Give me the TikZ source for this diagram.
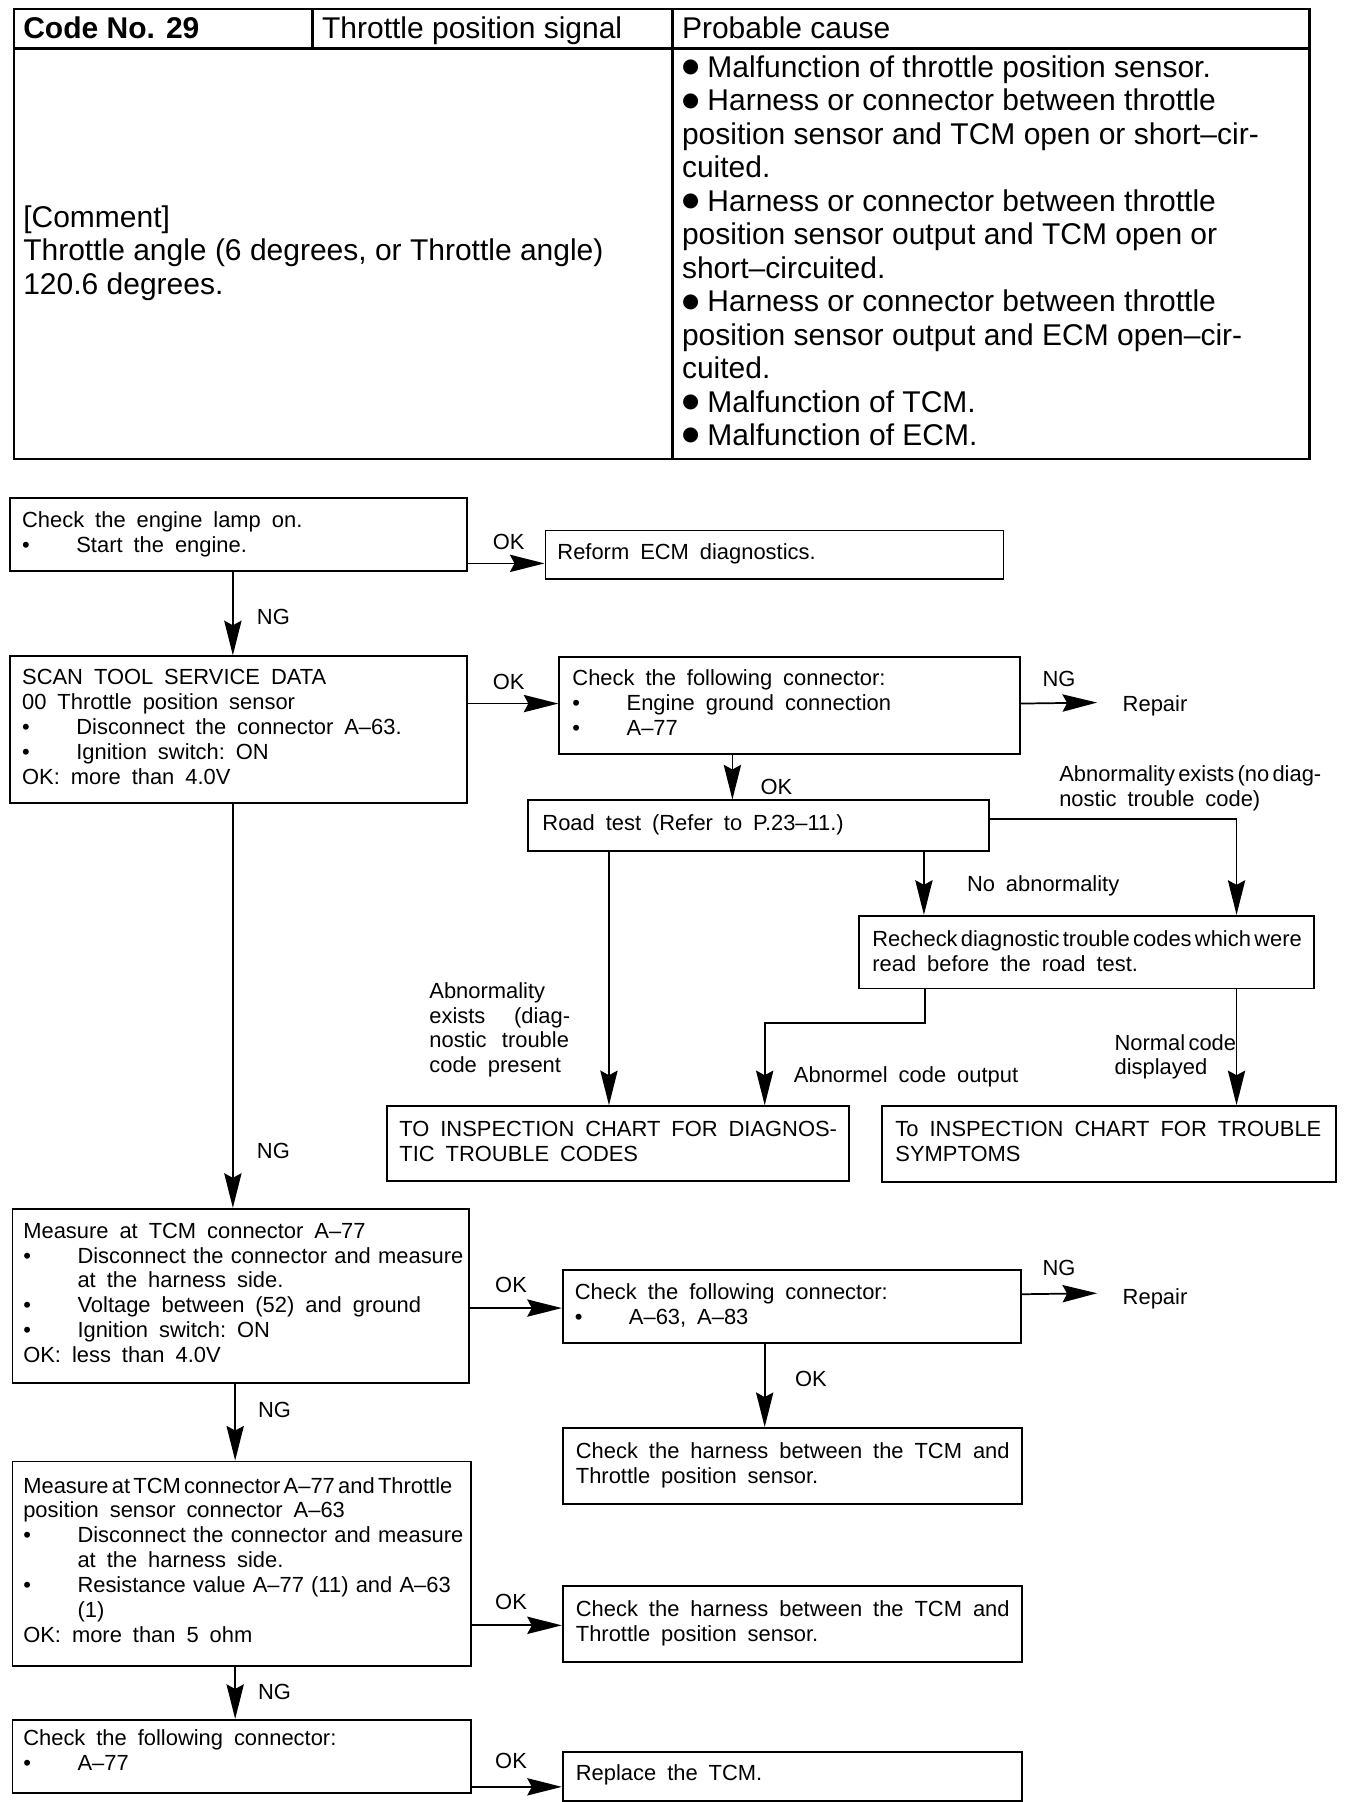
\documentclass[tikz,border=0pt]{standalone}
\usepackage{fontspec}
\setmainfont{Liberation Sans}
\newfontfamily\djvfont{DejaVu Sans}
\usetikzlibrary{arrows.meta}
\newcommand\flowsize{\fontsize{19}{21.6}\selectfont}
\newcommand\tabsize{\fontsize{26}{29}\selectfont}
\newcommand\ws{\spaceskip=0.5em\xspaceskip=0.5em\relax}
\newcommand\wt{\spaceskip=0.15em\xspaceskip=0.15em\relax}
\newcommand\wm{\spaceskip=0.33em\xspaceskip=0.33em\relax}
\newcommand\bl{\makebox[47pt][l]{\textbullet}}
\newcommand\ind{\hspace*{47pt}}
\newcommand\tbul{\makebox[22pt][l]{\raisebox{4pt}{\fontsize{17}{17}\selectfont\djvfont ●}}}
\newcommand\fs{\rule{0pt}{14pt}}
\newcommand\ts{\rule{0pt}{19pt}}
\begin{document}
\begin{tikzpicture}[x=1pt,y=-1pt,
  box/.style={draw, line width=1.7pt, inner sep=0pt, anchor=north west},
  txt/.style={inner sep=0pt, anchor=north west, align=left, font=\flowsize\ws},
  lbl/.style={inner sep=0pt, anchor=base, font=\flowsize\ws},
  ttxt/.style={inner sep=0pt, anchor=north west, align=left, font=\tabsize},
  arr/.style={line width=1.5pt, -{Stealth[length=30pt,width=15pt,inset=4pt]}},
  tline/.style={line width=2pt}]
\fill[white] (0,0) rectangle (1165,1562);
\useasboundingbox (0,0) rectangle (1165,1562);

% ---------- table ----------
\draw[tline] (12,8) rectangle (1135,398);
\draw[tline] (12,42) -- (1135,42);
\draw[tline] (271,8) -- (271,42);
\draw[tline] (583,8) -- (583,398);
\node[inner sep=0pt, anchor=base west, font=\tabsize\bfseries] (t1) at (20,33) {Code No. 29};
\node[inner sep=0pt, anchor=base west, font=\tabsize] (t2) at (279,33) {Throttle position signal};
\node[inner sep=0pt, anchor=base west, font=\tabsize] (t3) at (591,33) {Probable cause};
\node[ttxt] (tl) at (20,178) {[Comment]\ts\\Throttle angle (6 degrees, or Throttle angle)\\120.6 degrees.};
\node[ttxt] (tc) at (591,48) {\tbul Malfunction of throttle position sensor.\ts\\
\tbul Harness or connector between throttle\\
position sensor and TCM open or short–cir-\\
cuited.\\
\tbul Harness or connector between throttle\\
position sensor output and TCM open or\\
short–circuited.\\
\tbul Harness or connector between throttle\\
position sensor output and ECM open–cir-\\
cuited.\\
\tbul Malfunction of TCM.\\
\tbul Malfunction of ECM.};

% ---------- boxes ----------
\node[box, minimum width=396pt, minimum height=63pt] (A) at (8,431) {};
\node[box, minimum width=397pt, minimum height=42pt] (B) at (472,459) {};
\node[box, minimum width=396pt, minimum height=127pt] (C) at (8,568) {};
\node[box, minimum width=399pt, minimum height=84pt] (D) at (484,569) {};
\node[box, minimum width=399pt, minimum height=44pt] (E) at (457,693) {};
\node[box, minimum width=394pt, minimum height=63pt] (G) at (744,793) {};
\node[box, minimum width=400pt, minimum height=65pt] (H) at (335,958) {};
\node[box, minimum width=393pt, minimum height=66pt] (I) at (764,958) {};
\node[box, minimum width=396pt, minimum height=151pt] (J) at (10,1047) {};
\node[box, minimum width=397pt, minimum height=63pt] (K) at (487,1100) {};
\node[box, minimum width=398pt, minimum height=66pt] (L) at (487,1237) {};
\node[box, minimum width=397pt, minimum height=177pt] (M) at (10,1266) {};
\node[box, minimum width=398pt, minimum height=66pt] (N) at (487,1374) {};
\node[box, minimum width=397pt, minimum height=63pt] (O) at (10,1490) {};
\node[box, minimum width=398pt, minimum height=42pt] (P) at (487,1518) {};

% ---------- box texts ----------
\node[txt] (At) at ([xshift=11pt,yshift=-12pt]A.north west) {Check the engine lamp on.\fs\\\bl Start the engine.};
\node[txt] (Bt) at ([xshift=11pt,yshift=-12pt]B.north west) {Reform ECM diagnostics.\fs};
\node[txt] (Ct) at ([xshift=11pt,yshift=-11pt]C.north west) {SCAN TOOL SERVICE DATA\fs\\00 Throttle position sensor\\\bl Disconnect the connector A–63.\\\bl Ignition switch: ON\\OK: more than 4.0V};
\node[txt] (Dt) at ([xshift=12pt,yshift=-11pt]D.north west) {Check the following connector:\fs\\\bl Engine ground connection\\\bl A–77};
\node[txt] (Et) at ([xshift=13pt,yshift=-13pt]E.north west) {Road test (Refer to P.23–11.)\fs};
\node[txt] (Gt) at ([xshift=12pt,yshift=-13pt]G.north west) {{\wt Recheck diagnostic trouble codes which were}\fs\\read before the road test.};
\node[txt] (Ht) at ([xshift=11pt,yshift=-13pt]H.north west) {TO INSPECTION CHART FOR DIAGNOS-\fs\\TIC TROUBLE CODES};
\node[txt] (It) at ([xshift=12pt,yshift=-13pt]I.north west) {To INSPECTION CHART FOR TROUBLE\fs\\SYMPTOMS};
\node[txt] (Jt) at ([xshift=10pt,yshift=-12pt]J.north west) {Measure at TCM connector A–77\fs\\\bl {\wm Disconnect the connector and measure}\\\ind at the harness side.\\\bl Voltage between (52) and ground\\\bl Ignition switch: ON\\OK: less than 4.0V};
\node[txt] (Kt) at ([xshift=11pt,yshift=-12pt]K.north west) {Check the following connector:\fs\\\bl A–63, A–83};
\node[txt] (Lt) at ([xshift=12pt,yshift=-13pt]L.north west) {Check the harness between the TCM and\fs\\Throttle position sensor.};
\node[txt] (Mt) at ([xshift=10pt,yshift=-14pt]M.north west) {{\wt Measure at TCM connector A–77 and Throttle}\fs\\position sensor connector A–63\\\bl {\wm Disconnect the connector and measure}\\\ind at the harness side.\\\bl {\wm Resistance value A–77 (11) and A–63}\\\ind (1)\\OK: more than 5 ohm};
\node[txt] (Nt) at ([xshift=12pt,yshift=-13pt]N.north west) {Check the harness between the TCM and\fs\\Throttle position sensor.};
\node[txt] (Ot) at ([xshift=10pt,yshift=-9pt]O.north west) {Check the following connector:\fs\\\bl A–77};
\node[txt] (Pt) at ([xshift=12pt,yshift=-11pt]P.north west) {Replace the TCM.\fs};

% ---------- connectors ----------
\coordinate (a1) at ([yshift=-25pt]A.east);
\draw[arr] (a1) -- (a1 -| B.west);
\coordinate (a2) at ([xshift=-5pt]A.south);
\draw[arr] (a2) -- (a2 |- C.north);
\coordinate (c1) at ([yshift=22.5pt]C.east);
\draw[arr] (c1) -- (c1 -| D.west);
\coordinate (c2) at ([xshift=-5pt]C.south);
\draw[arr] (c2) -- (c2 |- J.north);
\coordinate (d1) at ([yshift=2pt]D.east);
\coordinate (r1) at (951,609);
\draw[arr] (d1) -- (r1);
\coordinate (d2) at ([xshift=-49.5pt]D.south);
\draw[arr] (d2) -- (d2 |- E.north);
\coordinate (e0) at ([yshift=6pt]E.east);
\coordinate (g0) at ([xshift=130pt]G.north);
\draw[arr] (e0) -| (g0);
\coordinate (e1) at ([xshift=143.5pt]E.south);
\draw[arr] (e1) -- (e1 |- G.north);
\coordinate (e2) at ([xshift=-129.5pt]E.south);
\draw[arr] (e2) -- (e2 |- H.north);
\coordinate (g1) at ([xshift=-140pt]G.south);
\coordinate (h1) at ([xshift=127pt]H.north);
\draw[arr] (g1) -- ++(0,29) -| (h1);
\coordinate (g2) at ([xshift=130pt]G.south);
\draw[arr] (g2) -- (g2 |- I.north);
\coordinate (j1) at ([yshift=-10.5pt]J.east);
\draw[arr] (j1) -- (j1 -| K.west);
\coordinate (j2) at ([xshift=-5pt]J.south);
\draw[arr] (j2) -- (j2 |- M.north);
\coordinate (k1) at ([yshift=10.5pt]K.east);
\coordinate (r2) at (951,1121);
\draw[arr] (k1) -- (r2);
\coordinate (k2) at ([xshift=-23.5pt]K.south);
\draw[arr] (k2) -- (k2 |- L.north);
\coordinate (m1) at ([yshift=-53.5pt]M.east);
\draw[arr] (m1) -- (m1 -| N.west);
\coordinate (m2) at ([xshift=-5.5pt]M.south);
\draw[arr] (m2) -- (m2 |- O.north);
\coordinate (o1) at ([yshift=-26.5pt]O.east);
\draw[arr] (o1) -- (o1 -| P.west);

% ---------- labels ----------
\node[lbl] (l1) at (441,476) {OK};
\node[lbl] (l2) at (237,541) {NG};
\node[lbl] (l3) at (441,598) {OK};
\node[lbl] (l4) at (918,595) {NG};
\node[lbl, anchor=base west] (rp1) at (973,617) {Repair};
\node[lbl] (l5) at (673,689) {OK};
\node[txt] (l6) at (918,663) {{\wt Abnormality exists (no diag-}\fs\\nostic trouble code)};
\node[lbl, anchor=base west] (l7) at (838,773) {No abnormality};
\node[txt] (l8) at (372,851) {Abnormality\fs\\\makebox[122pt][l]{exists\hfill(diag-}\\\makebox[121pt][l]{nostic\hfill trouble}\\code present};
\node[lbl, anchor=base west] (l9) at (688,938) {Abnormel code output};
\node[txt] (l10) at (966,896) {{\wt Normal code}\fs\\displayed};
\node[lbl] (l11) at (237,1004) {NG};
\node[lbl] (l12) at (443,1120) {OK};
\node[lbl] (l13) at (918,1106) {NG};
\node[lbl, anchor=base west] (rp2) at (973,1131) {Repair};
\node[lbl] (l14) at (703,1202) {OK};
\node[lbl] (l15) at (238,1229) {NG};
\node[lbl] (l16) at (443,1395) {OK};
\node[lbl] (l17) at (238,1473) {NG};
\node[lbl] (l18) at (443,1533) {OK};
\end{tikzpicture}
\end{document}
